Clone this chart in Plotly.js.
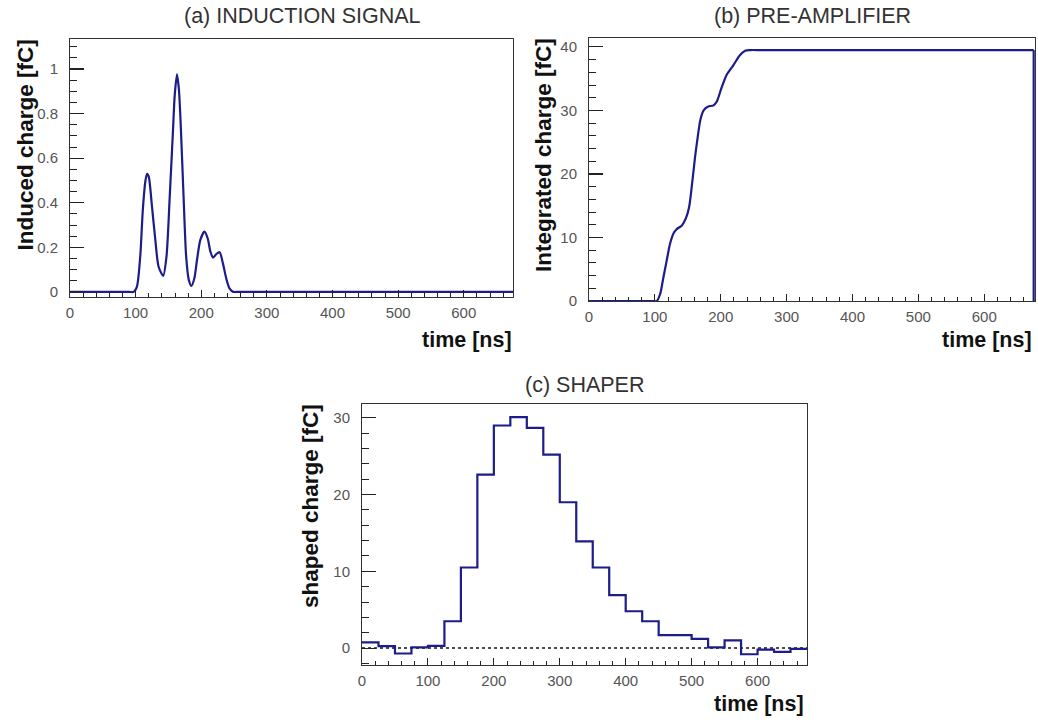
<!DOCTYPE html>
<html>
<head>
<meta charset="utf-8">
<script src="https://cdn.plot.ly/plotly-3.0.1.min.js"></script>
<style>html,body{margin:0;padding:0;background:#fff;}#chart{width:1038px;height:722px;}</style>
</head>
<body>
<div id="chart"></div>
<script>
// ---- Data ----
// (a) Induction signal
const timeA = [0, 90, 97, 102, 107, 111, 115, 117.5, 120, 125, 130, 135, 142, 147, 152, 157, 159.5, 163, 166, 169, 173, 177, 181, 185, 189.5, 193.5, 198.6, 204.7, 209.8, 214, 218, 223, 228, 233, 238, 243, 249, 256, 270, 675];
const inducedA = [0, 0, 0, 0.024, 0.158, 0.37, 0.50, 0.53, 0.517, 0.38, 0.233, 0.113, 0.072, 0.158, 0.43, 0.73, 0.88, 0.976, 0.906, 0.73, 0.43, 0.158, 0.054, 0.027, 0.061, 0.143, 0.233, 0.27, 0.24, 0.18, 0.154, 0.17, 0.178, 0.128, 0.061, 0.016, 0, 0, 0, 0];

// (b) Pre-amplifier (integrated charge)
const timeB = [0, 95, 103, 108, 113, 118, 123, 128, 133, 141, 147, 152, 157.6, 161, 165, 169, 174, 181, 189, 194, 201, 209, 219, 229, 237, 245, 260, 675];
const chargeB = [0, 0, 0, 1.1, 3.75, 6.4, 9.0, 10.6, 11.3, 11.9, 13.0, 14.8, 19.5, 22.7, 25.8, 28.5, 30.0, 30.6, 30.8, 31.4, 33.5, 35.6, 37.1, 38.7, 39.4, 39.5, 39.5, 39.5];

// (c) Shaper (25 ns bins)
const binStartC = [0, 25, 50, 75, 100, 125, 150, 175, 200, 225, 250, 275, 300, 325, 350, 375, 400, 425, 450, 475, 500, 525, 550, 575, 600, 625, 650];
const binWidthC = 25;
const shapedC = [0.74, 0.26, -0.7, 0.09, 0.3, 3.5, 10.5, 22.6, 29.0, 30.1, 28.7, 25.2, 19.0, 13.9, 10.5, 6.9, 4.8, 3.5, 1.7, 1.7, 1.2, 0.1, 1.0, -0.8, -0.2, -0.5, -0.1];

const titles = ["(a) INDUCTION SIGNAL", "(b) PRE-AMPLIFIER", "(c) SHAPER"];
const yTitles = ["Induced charge [fC]", "Integrated charge [fC]", "shaped charge [fC]"];
const xTitle = "time [ns]";

// ---- Build ----
const W = 1038, H = 722;
const FONT = "Liberation Sans, Arial, Helvetica, sans-serif";
const LINE = "#1c1c8a";
const px = v => v / W;
const py = v => 1 - v / H;

const edgesC = binStartC.concat([binStartC[binStartC.length - 1] + binWidthC]);
const stepYC = shapedC.concat([shapedC[shapedC.length - 1]]);
const lastTB = timeB[timeB.length - 1];
const lastB = chargeB[chargeB.length - 1];

const traces = [
  {x: timeA, y: inducedA, xaxis: 'x', yaxis: 'y', mode: 'lines',
   line: {color: LINE, width: 2.2, shape: 'spline', smoothing: 0.7}, hoverinfo: 'skip'},
  {x: timeB, y: chargeB, xaxis: 'x2', yaxis: 'y2', mode: 'lines',
   line: {color: LINE, width: 2.2, shape: 'spline', smoothing: 0.7}, hoverinfo: 'skip'},
  {x: [lastTB, lastTB], y: [lastB, 0], xaxis: 'x2', yaxis: 'y2', mode: 'lines',
   line: {color: LINE, width: 2.2}, hoverinfo: 'skip'},
  {x: edgesC, y: stepYC, xaxis: 'x3', yaxis: 'y3', mode: 'lines',
   line: {color: LINE, width: 2.2, shape: 'hv'}, hoverinfo: 'skip'}
];

function xax(domain, anchor, xmax) {
  return {domain: domain, anchor: anchor, range: [0, xmax], autorange: false,
    showline: true, mirror: true, linecolor: '#333', linewidth: 1,
    ticks: 'inside', ticklen: 7, tickwidth: 1, tickcolor: '#222',
    tick0: 0, dtick: 100,
    minor: {ticks: 'inside', dtick: 20, ticklen: 4, tickwidth: 1, tickcolor: '#222'},
    showgrid: false, zeroline: false,
    tickfont: {family: FONT, size: 15, color: '#555'}, ticklabelstandoff: 2};
}
function yax(domain, anchor, range, dtick, mdtick) {
  return {domain: domain, anchor: anchor, range: range, autorange: false,
    showline: true, mirror: true, linecolor: '#333', linewidth: 1,
    ticks: 'inside', ticklen: 14, tickwidth: 1.2, tickcolor: '#222',
    tick0: 0, dtick: dtick,
    minor: {ticks: 'inside', dtick: mdtick, ticklen: 7, tickwidth: 1, tickcolor: '#222'},
    showgrid: false, zeroline: false,
    tickfont: {family: FONT, size: 15, color: '#555'}, ticklabelstandoff: 8};
}

const layout = {
  width: W, height: H, autosize: false,
  margin: {l: 0, r: 0, t: 0, b: 0},
  paper_bgcolor: '#fff', plot_bgcolor: '#fff',
  showlegend: false,
  xaxis: xax([px(70), px(513)], 'y', 675),
  yaxis: yax([py(297), py(39)], 'x', [-0.023, 1.135], 0.2, 0.05),
  xaxis2: xax([px(589), px(1035)], 'y2', 677),
  yaxis2: yax([py(301), py(38)], 'x2', [0, 41.4], 10, 2),
  xaxis3: xax([px(362), px(807)], 'y3', 675),
  yaxis3: yax([py(665), py(404)], 'x3', [-2.2, 31.8], 10, 2),
  shapes: [
    {type: 'line', xref: 'x3 domain', yref: 'y3', x0: 0, x1: 1, y0: 0, y1: 0,
     line: {color: '#111', width: 1.5, dash: 'dot'}, layer: 'below'}
  ],
  annotations: [
    {text: titles[0], xref: 'paper', yref: 'paper', x: px(302), y: py(16), xanchor: 'center', yanchor: 'middle', showarrow: false, font: {family: FONT, size: 21.5, color: '#333'}},
    {text: titles[1], xref: 'paper', yref: 'paper', x: px(812), y: py(16), xanchor: 'center', yanchor: 'middle', showarrow: false, font: {family: FONT, size: 21.5, color: '#333'}},
    {text: titles[2], xref: 'paper', yref: 'paper', x: px(584), y: py(385), xanchor: 'center', yanchor: 'middle', showarrow: false, font: {family: FONT, size: 21.5, color: '#333'}},
    {text: '<b>' + yTitles[0] + '</b>', xref: 'paper', yref: 'paper', x: px(25), y: py(38), xanchor: 'center', yanchor: 'top', textangle: -90, showarrow: false, font: {family: FONT, size: 22.5, color: '#111'}},
    {text: '<b>' + yTitles[1] + '</b>', xref: 'paper', yref: 'paper', x: px(544), y: py(36), xanchor: 'center', yanchor: 'top', textangle: -90, showarrow: false, font: {family: FONT, size: 22.5, color: '#111'}},
    {text: '<b>' + yTitles[2] + '</b>', xref: 'paper', yref: 'paper', x: px(310), y: py(402), xanchor: 'center', yanchor: 'top', textangle: -90, showarrow: false, font: {family: FONT, size: 22.5, color: '#111'}},
    {text: '<b>' + xTitle + '</b>', xref: 'paper', yref: 'paper', x: px(514), y: py(340), xanchor: 'right', yanchor: 'middle', showarrow: false, font: {family: FONT, size: 21.5, color: '#111'}},
    {text: '<b>' + xTitle + '</b>', xref: 'paper', yref: 'paper', x: px(1034), y: py(340), xanchor: 'right', yanchor: 'middle', showarrow: false, font: {family: FONT, size: 21.5, color: '#111'}},
    {text: '<b>' + xTitle + '</b>', xref: 'paper', yref: 'paper', x: px(806), y: py(704), xanchor: 'right', yanchor: 'middle', showarrow: false, font: {family: FONT, size: 21.5, color: '#111'}}
  ]
};

Plotly.newPlot('chart', traces, layout, {staticPlot: true, displayModeBar: false});
</script>
</body>
</html>
